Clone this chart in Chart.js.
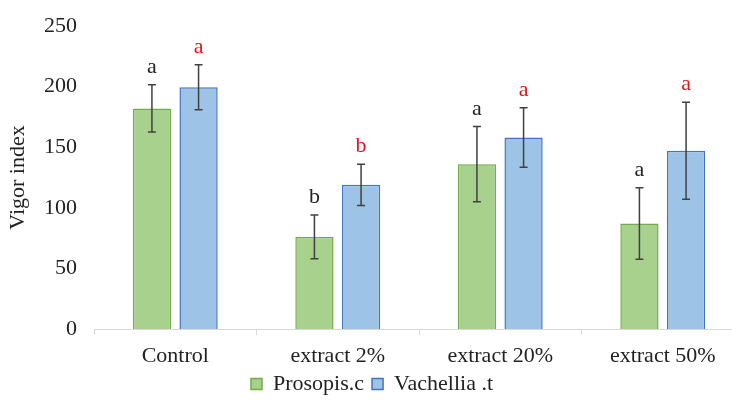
<!DOCTYPE html>
<html>
<head>
<meta charset="utf-8">
<script src="https://cdn.jsdelivr.net/npm/chart.js@4/dist/chart.umd.min.js"></script>
<style>
html,body{margin:0;padding:0;background:#fff;overflow:hidden;}
#wrap{width:750px;height:406px;}
</style>
</head>
<body>
<div id="wrap"><canvas id="c" width="750" height="406"></canvas></div>
<script>
const categories = ["Control", "extract 2%", "extract 20%", "extract 50%"];
const seriesNames = ["Prosopis.c", "Vachellia .t"];
const prosopis = [182, 76, 136, 87];
const prosopisErr = [19.5, 18, 31, 29.5];
const vachellia = [199.5, 119, 158, 147];
const vachelliaErr = [18.5, 17, 24.5, 40];
const prosopisLetters = ["a", "b", "a", "a"];
const vachelliaLetters = ["a", "b", "a", "a"];
const yTicks = [0, 50, 100, 150, 200, 250];

const FONT = "'Liberation Serif', 'Times New Roman', serif";
const errs = [prosopisErr, vachelliaErr];
const letters = [prosopisLetters, vachelliaLetters];
const letterColors = ["#222222", "#e0161b"];

const errPlugin = {
  id: 'errLetters',
  afterDatasetsDraw(chart) {
    const ctx = chart.ctx;
    const y = chart.scales.y;
    chart.data.datasets.forEach((ds, di) => {
      const meta = chart.getDatasetMeta(di);
      meta.data.forEach((bar, i) => {
        const v = ds.data[i], e = errs[di][i];
        const x = bar.x;
        const yt = y.getPixelForValue(v + e);
        const yb = y.getPixelForValue(v - e);
        ctx.save();
        ctx.strokeStyle = '#404040';
        ctx.lineWidth = 1.5;
        ctx.beginPath();
        ctx.moveTo(x, yt); ctx.lineTo(x, yb);
        ctx.moveTo(x - 4, yt); ctx.lineTo(x + 4, yt);
        ctx.moveTo(x - 4, yb); ctx.lineTo(x + 4, yb);
        ctx.stroke();
        ctx.fillStyle = letterColors[di];
        ctx.font = "22px " + FONT;
        ctx.textAlign = 'center';
        ctx.textBaseline = 'alphabetic';
        ctx.fillText(letters[di][i], x, yt - 12);
        ctx.restore();
      });
    });
  }
};

new Chart(document.getElementById('c'), {
  type: 'bar',
  data: {
    labels: categories,
    datasets: [
      { label: seriesNames[0], data: prosopis, backgroundColor: '#a9d18e', borderColor: '#70ad47', borderWidth: 1.5, categoryPercentage: 0.574, barPercentage: 0.82 },
      { label: seriesNames[1], data: vachellia, backgroundColor: '#9dc3e6', borderColor: '#4472c4', borderWidth: 1.5, categoryPercentage: 0.574, barPercentage: 0.82 }
    ]
  },
  options: {
    responsive: false,
    animation: false,
    layout: { padding: { top: 26, right: 6, left: 0, bottom: 1 } },
    plugins: {
      tooltip: { enabled: false },
      legend: {
        position: 'bottom',
        labels: {
          font: { family: FONT, size: 22 },
          color: '#222',
          boxWidth: 11,
          boxHeight: 11,
          padding: 8
        }
      }
    },
    scales: {
      x: {
        afterFit(scale) { scale.height = 36; },
        grid: { display: true, drawOnChartArea: false, drawTicks: true, tickLength: 6, color: '#d9d9d9', offset: true },
        border: { display: true, color: '#d9d9d9', width: 1 },
        ticks: { font: { family: FONT, size: 22 }, color: '#222', padding: 8 }
      },
      y: {
        min: 0, max: 250,
        afterBuildTicks(scale) { scale.ticks = yTicks.map(v => ({ value: v })); },
        afterFit(scale) { scale.width = 94; scale.paddingTop = 0; scale.paddingBottom = 0; },
        grid: { display: false, drawTicks: false },
        border: { display: false },
        ticks: { font: { family: FONT, size: 22 }, color: '#222', padding: 17 },
        title: { display: true, text: 'Vigor index', font: { family: FONT, size: 22 }, color: '#222', padding: { top: 5, bottom: 0 } }
      }
    }
  },
  plugins: [errPlugin]
});
</script>
</body>
</html>
